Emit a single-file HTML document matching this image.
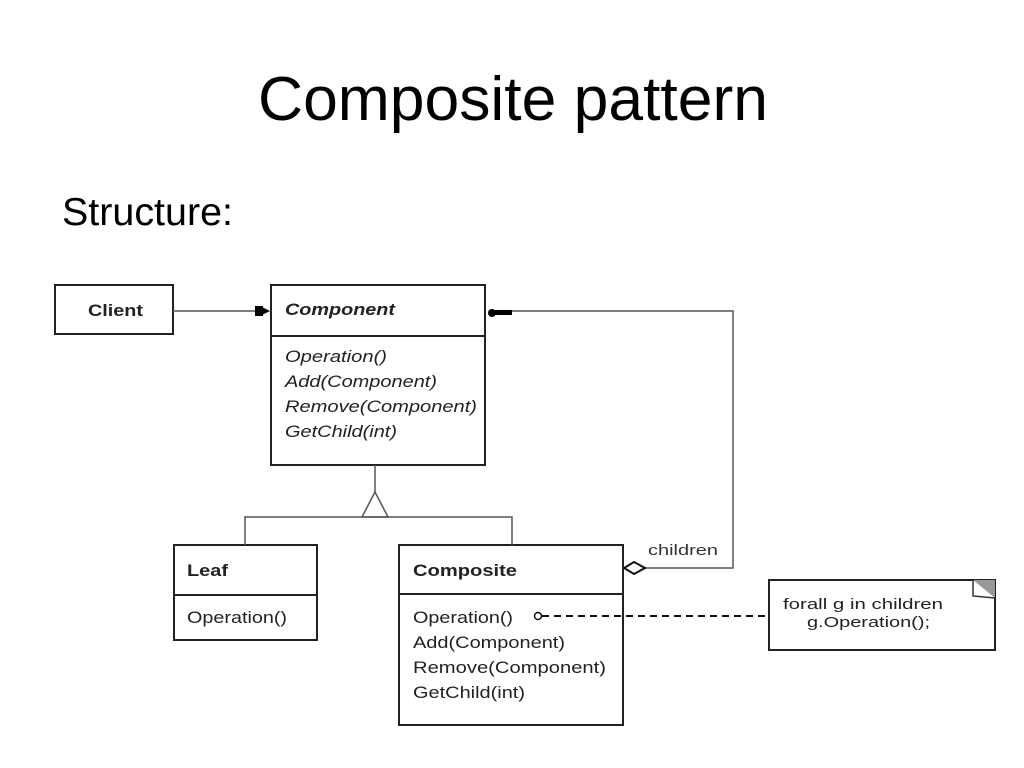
<!DOCTYPE html>
<html><head><meta charset="utf-8"><style>
html,body{margin:0;padding:0;background:#fff;}
svg{display:block;font-family:"Liberation Sans",Arial,sans-serif;}
</style></head><body>
<svg width="1024" height="768" viewBox="0 0 1024 768">
<text x="258" y="120" font-size="62" textLength="510" lengthAdjust="spacingAndGlyphs" fill="#000">Composite pattern</text>
<text x="62" y="225" font-size="39" textLength="171" lengthAdjust="spacingAndGlyphs" fill="#000">Structure:</text>
<g fill="none" stroke="#222" stroke-width="2">
<rect x="55" y="285" width="118" height="49"/>
<rect x="271" y="285" width="214" height="180"/>
<line x1="271" y1="336" x2="485" y2="336"/>
<rect x="174" y="545" width="143" height="95"/>
<line x1="174" y1="595" x2="317" y2="595"/>
<rect x="399" y="545" width="224" height="180"/>
<line x1="399" y1="594" x2="623" y2="594"/>
<rect x="769" y="580" width="226" height="70"/>
</g>
<g fill="none" stroke="#555" stroke-width="1.5">
<line x1="173" y1="311" x2="258" y2="311"/>
<line x1="375" y1="465" x2="375" y2="492"/>
<polygon points="375,492 362,517 388,517" fill="#fff"/>
<polyline points="245,545 245,517 512,517 512,545"/>
<polyline points="645,568 733,568 733,311 510,311"/>
</g>
<rect x="255" y="306" width="8" height="10" fill="#000"/>
<polygon points="262,307 262,315 270,311" fill="#000"/>
<circle cx="492" cy="313" r="4" fill="#000"/>
<rect x="494" y="310" width="18" height="5" fill="#000"/>
<polygon points="624,568 634,562 645,568 634,574" fill="#fff" stroke="#111" stroke-width="2"/>
<text x="648" y="555" font-size="15" textLength="70" lengthAdjust="spacingAndGlyphs" fill="#333">children</text>
<circle cx="538" cy="616" r="3.5" fill="#fff" stroke="#111" stroke-width="1.5"/>
<line x1="542" y1="616" x2="769" y2="616" stroke="#111" stroke-width="2" stroke-dasharray="7,5"/>
<polygon points="973,580 995,580 995,598" fill="#999"/>
<polyline points="973,580 973,596 995,598" fill="none" stroke="#333" stroke-width="1.5"/>
<g font-size="17" fill="#222" lengthAdjust="spacingAndGlyphs">
<text x="88" y="316" font-weight="bold" textLength="55" lengthAdjust="spacingAndGlyphs">Client</text>
<text x="285" y="315" font-weight="bold" font-style="italic" textLength="110" lengthAdjust="spacingAndGlyphs">Component</text>
<text x="285" y="362" font-style="italic" textLength="102" lengthAdjust="spacingAndGlyphs">Operation()</text>
<text x="285" y="387" font-style="italic" textLength="152" lengthAdjust="spacingAndGlyphs">Add(Component)</text>
<text x="285" y="412" font-style="italic" textLength="192" lengthAdjust="spacingAndGlyphs">Remove(Component)</text>
<text x="285" y="437" font-style="italic" textLength="112" lengthAdjust="spacingAndGlyphs">GetChild(int)</text>
<text x="187" y="576" font-weight="bold" textLength="41" lengthAdjust="spacingAndGlyphs">Leaf</text>
<text x="187" y="623" textLength="100" lengthAdjust="spacingAndGlyphs">Operation()</text>
<text x="413" y="576" font-weight="bold" textLength="104" lengthAdjust="spacingAndGlyphs">Composite</text>
<text x="413" y="623" textLength="100" lengthAdjust="spacingAndGlyphs">Operation()</text>
<text x="413" y="648" textLength="152" lengthAdjust="spacingAndGlyphs">Add(Component)</text>
<text x="413" y="673" textLength="193" lengthAdjust="spacingAndGlyphs">Remove(Component)</text>
<text x="413" y="698" textLength="112" lengthAdjust="spacingAndGlyphs">GetChild(int)</text>
<text x="783" y="609" font-size="15" textLength="160" lengthAdjust="spacingAndGlyphs">forall g in children</text>
<text x="807" y="627" font-size="15" textLength="123" lengthAdjust="spacingAndGlyphs">g.Operation();</text>
</g>
</svg>
</body></html>
